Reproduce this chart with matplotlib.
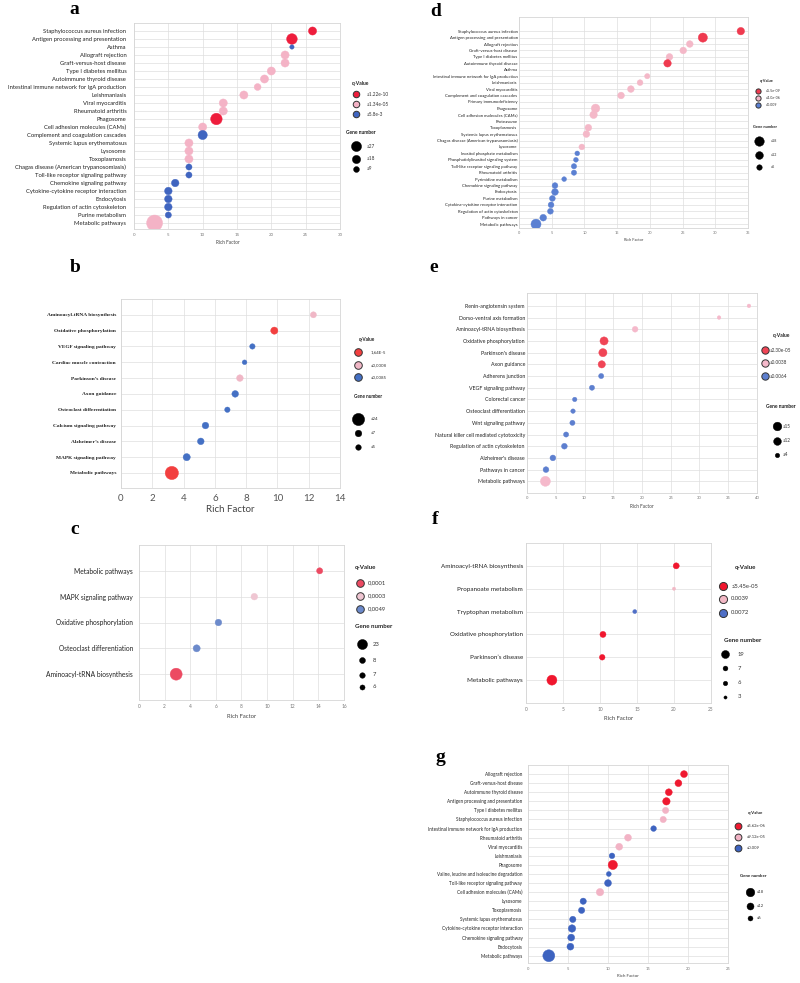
import numpy as np
import matplotlib
matplotlib.use("Agg")
import matplotlib.pyplot as plt

W, H = 800, 983
SANS = ["Lato", "DejaVu Sans"]
SERIF = ["Liberation Serif", "DejaVu Serif"]
nan = np.nan

# ---------------- data ----------------
a_terms = ["Staphylococcus aureus infection", "Antigen processing and presentation", "Asthma",
           "Allograft rejection", "Graft-versus-host disease", "Type I diabetes mellitus",
           "Autoimmune thyroid disease", "Intestinal immune network for IgA production",
           "Leishmaniasis", "Viral myocarditis", "Rheumatoid arthritis", "Phagosome",
           "Cell adhesion molecules (CAMs)", "Complement and coagulation cascades",
           "Systemic lupus erythematosus", "Lysosome", "Toxoplasmosis",
           "Chagas disease (American trypanosomiasis)", "Toll-like receptor signaling pathway",
           "Chemokine signaling pathway", "Cytokine-cytokine receptor interaction",
           "Endocytosis", "Regulation of actin cytoskeleton", "Purine metabolism",
           "Metabolic pathways"]
a_rich = [26, 23, 23, 22, 22, 20, 19, 18, 16, 13, 13, 12, 10, 10, 8, 8, 8, 8, 8, 6, 5, 5, 5, 5, 3]
a_genes = [7, 12, 2, 7, 7, 7, 7, 5, 7, 7, 7, 14, 7, 9, 7, 7, 7, 4, 4, 6, 6, 6, 6, 4, 27]
a_level = list("rrbpppppppprpbpppbbbbbbbp")
a_q_labels = ["≤1.22e-10", "≤1.34e-05", "≤5.8e-3"]
a_gene_legend = [27, 18, 9]
a_gene_labels = ["≤27", "≤18", "≤9"]

b_terms = ["Aminoacyl-tRNA biosynthesis", "Oxidative phosphorylation", "VEGF signaling pathway",
           "Cardiac muscle contraction", "Parkinson’s disease", "Axon guidance",
           "Osteoclast differentiation", "Calcium signaling pathway", "Alzheimer’s disease",
           "MAPK signaling pathway", "Metabolic pathways"]
b_rich = [12.3, 9.8, 8.4, 7.9, 7.6, 7.3, 6.8, 5.4, 5.1, 4.2, 3.25]
b_genes = [5, 7, 4, 3, 6, 6, 4, 6, 6, 7, 24]
b_level = list("prbbpbbbbbr")
b_q_labels = ["1,64E-5", "≤0,0008", "≤0,0085"]
b_gene_legend = [24, 7, 5]
b_gene_labels = ["≤24", "≤7", "≤5"]

c_terms = ["Metabolic pathways", "MAPK signaling pathway", "Oxidative phosphorylation",
           "Osteoclast differentiation", "Aminoacyl-tRNA biosynthesis"]
c_rich = [14.1, 9.0, 6.2, 4.5, 2.9]
c_genes = [6, 7, 7, 8, 23]
c_level = list("rpbbr")
c_q_labels = ["0,0001", "0,0003", "0,0049"]
c_gene_legend = [23, 8, 7, 6]
c_gene_labels = ["23", "8", "7", "6"]

d_terms = ["Staphylococcus aureus infection", "Antigen processing and presentation",
           "Allograft rejection", "Graft-versus-host disease", "Type I diabetes mellitus",
           "Autoimmune thyroid disease", "Asthma", "Intestinal immune network for IgA production",
           "Leishmaniasis", "Viral myocarditis", "Complement and coagulation cascades",
           "Primary immunodeficiency", "Phagosome", "Cell adhesion molecules (CAMs)",
           "Proteasome", "Toxoplasmosis", "Systemic lupus erythematosus",
           "Chagas disease (American trypanosomiasis)", "Lysosome",
           "Inositol phosphate metabolism", "Phosphatidylinositol signaling system",
           "Toll-like receptor signaling pathway", "Rheumatoid arthritis",
           "Pyrimidine metabolism", "Chemokine signaling pathway", "Endocytosis",
           "Purine metabolism", "Cytokine-cytokine receptor interaction",
           "Regulation of actin cytoskeleton", "Pathways in cancer", "Metabolic pathways"]
d_rich = [33.9, 28.1, 26.1, 25.1, 23.0, 22.7, nan, 19.6, 18.5, 17.1, 15.6, nan, 11.7, 11.4,
          nan, 10.6, 10.3, nan, 9.6, 8.9, 8.7, 8.4, 8.4, 6.9, 5.5, 5.5, 5.1, 4.9, 4.8, 3.7, 2.6]
d_genes = [10, 15, 8, 8, 8, 10, 0, 5, 6, 8, 8, 0, 13, 10, 0, 8, 8, 0, 6, 4, 4, 5, 5, 4, 6,
           8, 6, 6, 6, 8, 18]
d_level = list("rrppprppppppppppppp") + list("bbbbbbbbbbbb")
d_q_labels = ["≤5.5e-09", "≤4.0e-06", "≤0.009"]
d_gene_legend = [18, 12, 6]
d_gene_labels = ["≤18", "≤12", "≤6"]

e_terms = ["Renin-angiotensin system", "Dorso-ventral axis formation",
           "Aminoacyl-tRNA biosynthesis", "Oxidative phosphorylation", "Parkinson's disease",
           "Axon guidance", "Adherens junction", "VEGF signaling pathway", "Colorectal cancer",
           "Osteoclast differentiation", "Wnt signaling pathway",
           "Natural killer cell mediated cytotoxicity", "Regulation of actin cytoskeleton",
           "Alzheimer's disease", "Pathways in cancer", "Metabolic pathways"]
e_rich = [38.6, 33.4, 18.8, 13.4, 13.2, 13.0, 12.9, 11.3, 8.3, 8.0, 7.9, 6.8, 6.5, 4.5, 3.3, 3.2]
e_genes = [2, 2, 5, 10, 10, 8, 4, 4, 3, 3, 4, 4, 5, 5, 5, 15]
e_level = list("ppprrrbbbbbbbbbp")
e_q_labels = ["≤2.30e-05", "≤0.0038", "≤0.0064"]
e_gene_legend = [15, 12, 4]
e_gene_labels = ["≤15", "≤12", "≤4"]

f_terms = ["Aminoacyl-tRNA biosynthesis", "Propanoate metabolism", "Tryptophan metabolism",
           "Oxidative phosphorylation", "Parkinson’s disease", "Metabolic pathways"]
f_rich = [20.3, 20.0, 14.7, 10.4, 10.3, 3.5]
f_genes = [7, 2, 3, 7, 6, 19]
f_level = list("rpbrrr")
f_q_labels = ["≤5.45e-05", "0.0039", "0.0072"]
f_gene_legend = [19, 7, 6, 3]
f_gene_labels = ["19", "7", "6", "3"]

g_terms = ["Allograft rejection", "Graft-versus-host disease", "Autoimmune thyroid disease",
           "Antigen processing and presentation", "Type I diabetes mellitus",
           "Staphylococcus aureus infection", "Intestinal immune network for IgA production",
           "Rheumatoid arthritis", "Viral myocarditis", "Leishmaniasis", "Phagosome",
           "Valine, leucine and isoleucine degradation", "Toll-like receptor signaling pathway",
           "Cell adhesion molecules (CAMs)", "Lysosome", "Toxoplasmosis",
           "Systemic lupus erythematosus", "Cytokine-cytokine receptor interaction",
           "Chemokine signaling pathway", "Endocytosis", "Metabolic pathways"]
g_rich = [19.5, 18.8, 17.6, 17.3, 17.2, 16.9, 15.7, 12.5, 11.4, 10.5, 10.6, 10.1, 10.0, 9.0,
          6.9, 6.7, 5.6, 5.5, 5.4, 5.3, 2.6]
g_genes = [6, 6, 6, 7, 5, 5, 4, 6, 6, 4, 11, 3, 6, 7, 5, 5, 5, 7, 6, 6, 18]
g_level = list("rrrrppbppbrbbpbbbbbbb")
g_q_labels = ["≤5.62e-06", "≤9.12e-05", "≤0.009"]
g_gene_legend = [18, 12, 6]
g_gene_labels = ["≤18", "≤12", "≤6"]

# ---------------- drawing ----------------
fig = plt.figure(figsize=(W / 100, H / 100), dpi=100)
over = fig.add_axes([0, 0, 1, 1], zorder=10)
over.set_xlim(0, W)
over.set_ylim(H, 0)
over.axis("off")
over.patch.set_alpha(0)


def panel(rect, terms, rich, genes, level, k, pal, xmax, step, lab_fs, lab_font, lab_w,
          ypad, tick_fs, tick_pad, top_m, bot_m, xl_y, xl_fs, xl_x=None, tick_font=SANS,
          tick_col="#777777"):
    x0, y0, x1, y1 = rect
    ax = fig.add_axes([x0 / W, 1 - y1 / H, (x1 - x0) / W, (y1 - y0) / H])
    n = len(terms)
    ypos = np.arange(n)[::-1]
    cols = [pal[l] for l in level]
    ax.scatter(rich, ypos, s=k * np.asarray(genes, float), c=cols, edgecolors=cols,
               linewidths=0.3, zorder=3)
    ax.set_yticks(ypos)
    ax.set_yticklabels(terms, fontsize=lab_fs, family=lab_font, fontweight=lab_w,
                       color="#222222")
    ax.set_ylim(-bot_m, n - 1 + top_m)
    ax.set_xlim(0, xmax)
    ticks = np.arange(0, xmax + 0.01, step)
    ax.set_xticks(ticks)
    ax.set_xticklabels([f"{t:g}" for t in ticks], fontsize=tick_fs, family=tick_font,
                       color=tick_col)
    ax.tick_params(axis="y", length=0, pad=ypad)
    ax.tick_params(axis="x", length=0, pad=tick_pad)
    ax.grid(True, color="#dedede", lw=0.5)
    ax.set_axisbelow(True)
    for s in ax.spines.values():
        s.set_color("#d6d6d6")
        s.set_linewidth(0.6)
    cx = (x0 + x1) / 2 if xl_x is None else xl_x
    over.text(cx, xl_y, "Rich Factor", fontsize=xl_fs, family=tick_font, color="#444444",
              ha="center", va="center")
    return ax


def legend(pal, qtitle, qx, qy, qlabels, qtx, qs, gtitle, gx, gy, gvals, glabels, gtx, gk,
           fs, tfs, qha="center", gha="center"):
    over.text(qtitle[0], qtitle[1], "q-Value", fontsize=tfs, family=SANS, fontweight="bold",
              ha=qha, va="center", color="#222222")
    for yy, lab, key in zip(qy, qlabels, ["r", "p", "b"]):
        over.scatter([qx], [yy], s=qs, c=pal[key], edgecolors="#333333", linewidths=0.7,
                     zorder=5)
        over.text(qtx, yy, lab, fontsize=fs, family=SANS, ha="left", va="center",
                  color="#333333")
    over.text(gtitle[0], gtitle[1], "Gene number", fontsize=tfs, family=SANS,
              fontweight="bold", ha=gha, va="center", color="#222222")
    for yy, v, lab in zip(gy, gvals, glabels):
        over.scatter([gx], [yy], s=gk * v, c="black", edgecolors="black", linewidths=0.3,
                     zorder=5)
        over.text(gtx, yy, lab, fontsize=fs, family=SANS, ha="left", va="center",
                  color="#333333")


pal_a = {"r": "#ee1d3c", "p": "#f4b3c6", "b": "#4065c0"}
pal_b = {"r": "#f23f3f", "p": "#f0b7c6", "b": "#4470c4"}
pal_c = {"r": "#ec4a62", "p": "#efc6d2", "b": "#6c8acb"}
pal_d = {"r": "#ef3a4f", "p": "#f4b8c8", "b": "#5b80d2"}
pal_e = {"r": "#f04556", "p": "#f5b9cb", "b": "#5d7fcf"}
pal_f = {"r": "#f0162e", "p": "#f2b8c5", "b": "#4f6fc6"}
pal_g = {"r": "#ef1930", "p": "#f2b3c5", "b": "#3d63c0"}

# panel letters
for lab, (x, y) in {"a": (74, 10), "b": (75, 267), "c": (75, 530), "d": (436, 12),
                    "e": (434, 268), "f": (435, 519), "g": (440, 757)}.items():
    over.text(x, y, lab, fontsize=14, family=SERIF, fontweight="bold", ha="center",
              va="center", color="black")

# a
panel((134, 23, 340, 229), a_terms, a_rich, a_genes, a_level, 4.9, pal_a, 30, 5,
      4.2, SANS, "normal", 5.5, 3.2, 3.0, 1.0, 0.75, 243, 3.4, xl_x=228)
legend(pal_a, (361, 83), 356, [94, 104, 114], a_q_labels, 367, 22,
       (361, 132), 356, [146, 159, 169], a_gene_legend, a_gene_labels, 367, 4.9 * 0.4,
       3.4, 3.6)

# b
panel((121, 299, 340, 488), b_terms, b_rich, b_genes, b_level, 3.8, pal_b, 14, 2,
      3.9, SERIF, "bold", 3.6, 7, 4.0, 1.0, 0.95, 510, 7, tick_col="#555555")
legend(pal_b, (367, 339), 358, [352, 365, 377], b_q_labels, 371, 30,
       (368, 397), 358, [419, 433, 447], b_gene_legend, b_gene_labels, 371, 3.8 * 0.85,
       3.2, 3.4)

# c
panel((139, 545, 344, 700), c_terms, c_rich, c_genes, c_level, 3.24, pal_c, 16, 2,
      4.8, SANS, "normal", 4.3, 3.4, 3.0, 1.0, 1.0, 716, 4.2)
legend(pal_c, (355, 567), 360, [583, 596, 609], c_q_labels, 368, 30,
       (355, 627), 362, [644, 660, 675, 687], c_gene_legend, c_gene_labels, 373,
       3.24 * 0.7, 4.2, 4.4, qha="left", gha="left")

# d
panel((519, 17, 748, 228), d_terms, d_rich, d_genes, d_level, 2.9, pal_d, 35, 5,
      3.1, SANS, "normal", 1.0, 2.8, 2.0, 2.2, 0.6, 240, 2.8)
legend(pal_d, (767, 81), 758, [91, 98, 105], d_q_labels, 766, 14,
       (765, 127), 759, [141, 155, 167], d_gene_legend, d_gene_labels, 771, 2.9 * 0.9,
       2.6, 2.8)

# e
panel((527, 293, 757, 493), e_terms, e_rich, e_genes, e_level, 3.45, pal_e, 40, 5,
      3.8, SANS, "normal", 1.5, 3.0, 2.5, 1.1, 1.0, 507, 3.4)
legend(pal_e, (782, 335), 765, [350, 363, 376], e_q_labels, 770, 28,
       (766, 407), 777, [426, 441, 455], e_gene_legend, e_gene_labels, 783, 3.45 * 0.75,
       3.3, 3.6, gha="left")

# f
panel((526, 543, 711, 703), f_terms, f_rich, f_genes, f_level, 2.73, pal_f, 25, 5,
      4.5, SANS, "normal", 2.0, 3.4, 3.0, 1.0, 1.0, 718, 4.2)
legend(pal_f, (745, 568), 723, [586, 599, 613], f_q_labels, 731, 34,
       (743, 640), 725, [654, 668, 683, 697], f_gene_legend, f_gene_labels, 738,
       2.73 * 0.64, 4.2, 4.4)

# g
panel((528, 765, 728, 963), g_terms, g_rich, g_genes, g_level, 4.1, pal_g, 25, 5,
      3.3, SANS, "normal", 4.0, 3.0, 3.0, 1.0, 0.8, 976, 3.2)
legend(pal_g, (755, 813), 738, [826, 837, 848], g_q_labels, 747, 24,
       (753, 876), 750, [892, 906, 918], g_gene_legend, g_gene_labels, 757, 4.1 * 0.52,
       3.0, 3.2)

fig.savefig("out.png", dpi=100)
